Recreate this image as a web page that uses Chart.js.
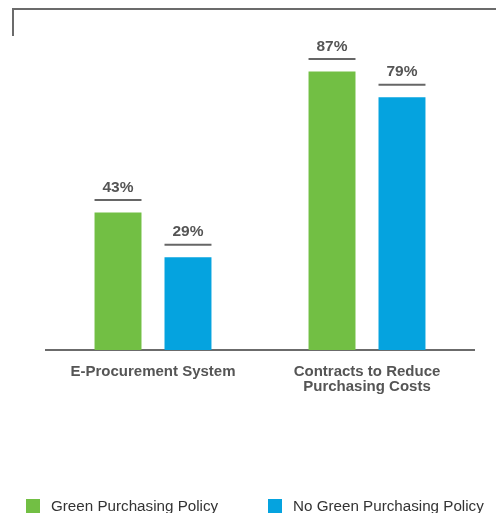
<!DOCTYPE html>
<html>
<head>
<meta charset="utf-8">
<script src="https://cdn.jsdelivr.net/npm/chart.js@4/dist/chart.umd.min.js"></script>
<style>
  html, body { margin: 0; padding: 0; background: #fff; overflow: hidden; }
  #wrap { width: 496px; height: 513px; }
</style>
</head>
<body>
<div id="wrap"><canvas id="myChart"></canvas></div>
<script>
const labels = [
    'E-Procurement System',
    ['Contracts to Reduce', 'Purchasing Costs']
];
const seriesNames = ['Green Purchasing Policy', 'No Green Purchasing Policy'];
const greenValues = [43, 87];
const noGreenValues = [29, 79];

const FONT = '"Liberation Sans", Arial, sans-serif';

// top frame line (decoration)
const framePlugin = {
    id: 'frame',
    beforeDraw(chart) {
        const ctx = chart.ctx;
        ctx.save();
        ctx.strokeStyle = '#6b6b6b';
        ctx.lineWidth = 2;
        ctx.beginPath();
        ctx.moveTo(13, 36);
        ctx.lineTo(13, 9);
        ctx.lineTo(496, 9);
        ctx.stroke();
        ctx.restore();
    }
};

// value label with a rule above each bar
const valuePlugin = {
    id: 'values',
    afterDatasetsDraw(chart) {
        const ctx = chart.ctx;
        ctx.save();
        chart.data.datasets.forEach(function (ds, i) {
            chart.getDatasetMeta(i).data.forEach(function (bar, j) {
                const half = bar.width / 2;
                ctx.strokeStyle = '#666';
                ctx.lineWidth = 2;
                ctx.beginPath();
                ctx.moveTo(bar.x - half, bar.y - 12.5);
                ctx.lineTo(bar.x + half, bar.y - 12.5);
                ctx.stroke();
                ctx.fillStyle = '#555';
                ctx.font = 'bold 15.5px ' + FONT;
                ctx.textAlign = 'center';
                ctx.textBaseline = 'middle';
                ctx.fillText(ds.data[j] + '%', bar.x, bar.y - 25);
            });
        });
        ctx.restore();
    }
};

// legend along the bottom edge
const legendPlugin = {
    id: 'bottomLegend',
    afterDraw(chart) {
        const ctx = chart.ctx;
        const xs = [26, 268];
        ctx.save();
        ctx.font = '15.2px ' + FONT;
        ctx.textAlign = 'left';
        ctx.textBaseline = 'middle';
        chart.data.datasets.forEach(function (ds, i) {
            ctx.fillStyle = ds.backgroundColor;
            ctx.fillRect(xs[i], 499, 14, 16);
            ctx.fillStyle = '#333';
            ctx.fillText(ds.label, xs[i] + 25, 507);
        });
        ctx.restore();
    }
};

const data = {
    labels: labels,
    datasets: [{
        label: seriesNames[0],
        backgroundColor: '#72bf44',
        data: greenValues
    }, {
        label: seriesNames[1],
        backgroundColor: '#05a3df',
        data: noGreenValues
    }]
};

const config = {
    type: 'bar',
    data: data,
    options: {
        responsive: true,
        maintainAspectRatio: false,
        animation: false,
        categoryPercentage: 0.654,
        barPercentage: 0.671,
        layout: {
            padding: { top: 30, left: 46, right: 22, bottom: 0 }
        },
        scales: {
            x: {
                grid: { display: false },
                border: { display: true, color: '#6b6b6b', width: 2 },
                ticks: {
                    padding: 6,
                    color: '#555',
                    font: { family: FONT, size: 15, weight: 'bold', lineHeight: 1.0 }
                },
                afterFit(scale) {
                    scale.height = 163;
                }
            },
            y: {
                display: false,
                min: 0,
                max: 100
            }
        },
        plugins: {
            legend: { display: false },
            tooltip: { enabled: false }
        }
    },
    plugins: [framePlugin, valuePlugin, legendPlugin]
};

const myChart = new Chart(document.getElementById('myChart'), config);
</script>
</body>
</html>
